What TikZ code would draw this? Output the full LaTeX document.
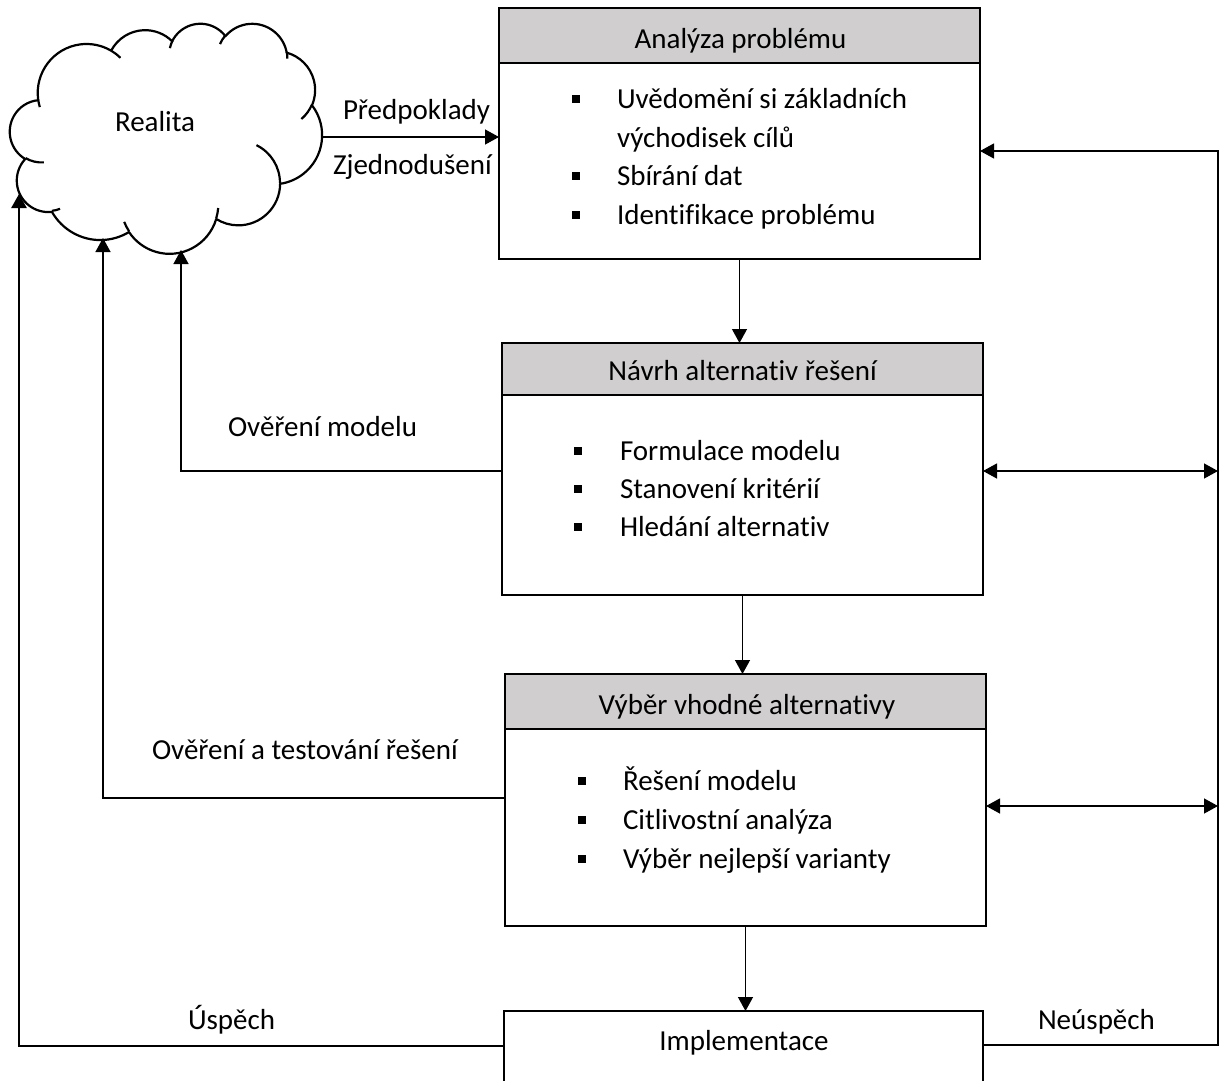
\documentclass[tikz,border=0pt]{standalone}
\usepackage{fontspec}
\setmainfont{Carlito}[Ligatures={NoCommon}]
\usetikzlibrary{arrows.meta,calc}
\definecolor{hdrgray}{RGB}{208,206,206}
\newcommand\cldarc[5]{%
  \pgfmathsetmacro\cldta{atan2(#2*sin(#4), #3*cos(#4))}%
  \pgfmathsetmacro\cldtb{atan2(#2*sin(#4+#5), #3*cos(#4+#5))}%
  \pgfmathsetmacro\cldd{mod(\cldtb-\cldta+720,360)}%
  \expandafter\xdef\csname cldS#1\endcsname{\cldta}%
  \expandafter\xdef\csname cldD#1\endcsname{\cldd}%
}
\begin{document}
\begin{tikzpicture}[x=1pt,y=-1pt,
  every node/.style={inner sep=0pt, outer sep=0pt},
  txt/.style={font=\fontsize{29}{35}\selectfont, anchor=base west},
  ctxt/.style={font=\fontsize{29}{35}\selectfont, anchor=base},
  hdrbox/.style={draw, line width=2.6pt, fill=hdrgray, anchor=north, minimum height=#1},
  bodybox/.style={draw, line width=2.6pt, fill=white, anchor=north, minimum height=#1},
  bul/.style={fill=black, minimum size=8pt, rectangle},
  arr/.style={line width=1.3pt, -{Triangle[length=14pt,width=15pt]}},
  darr/.style={line width=1.3pt, {Triangle[length=14pt,width=15pt]}-{Triangle[length=14pt,width=15pt]}},
  cldline/.style={line width=2.2pt, line join=round}
]
\path[use as bounding box] (0,0) rectangle (1221,1081);
\clip (0,0) rectangle (1221,1081);
\fill[white] (0,0) rectangle (1221,1081);

% ---------- cloud (Office cloud outline) ----------
\cldarc{A}{675.3}{919.0}{-190.4875}{123.7805}
\cldarc{B}{533.3}{726.7}{-144.1024}{89.9452}
\cldarc{C}{436.5}{594.5}{-145.8079}{99.7230}
\cldarc{D}{485.7}{659.5}{-130.9861}{117.2417}
\cldarc{E}{533.3}{727.3}{-78.7089}{109.0269}
\cldarc{F}{677.5}{922.0}{-46.2673}{130.2690}
\cldarc{G}{578.5}{786.7}{0.6250}{114.0333}
\cldarc{H}{675.2}{921.5}{22.4516}{115.1726}
\cldarc{I}{772.0}{1054.3}{66.2426}{75.7110}
\cldarc{J}{436.0}{591.8}{-274.9421}{146.7356}
\cldarc{K}{434.5}{594.5}{-246.8285}{152.5189}
\cldarc{a}{434.5}{594.5}{86.7420}{26.4295}
\cldarc{b}{436.0}{591.8}{73.6105}{11.4475}
\cldarc{c}{675.2}{921.5}{137.6242}{14.0811}
\cldarc{d}{675.2}{921.5}{6.4533}{15.9984}
\cldarc{e}{578.5}{786.7}{-70.2924}{70.9174}
\cldarc{f}{533.3}{727.3}{30.3180}{27.7515}
\cldarc{g}{485.7}{659.5}{-13.7443}{14.8589}
\cldarc{h}{485.7}{659.5}{-149.1815}{18.1954}
\cldarc{i}{436.5}{594.5}{-163.4943}{17.6864}
\cldarc{j}{675.3}{919.0}{-66.7070}{12.3194}
\cldarc{k}{675.3}{919.0}{157.6544}{11.8582}
\begin{scope}[shift={(10,23)}, x=0.072222pt, y=-0.053241pt]
\draw[cldline, fill=white] (390,1437)
  arc[start angle=\cldSA, delta angle=\cldDA, x radius=675.3, y radius=919.0]
  arc[start angle=\cldSB, delta angle=\cldDB, x radius=533.3, y radius=726.7]
  arc[start angle=\cldSC, delta angle=\cldDC, x radius=436.5, y radius=594.5]
  arc[start angle=\cldSD, delta angle=\cldDD, x radius=485.7, y radius=659.5]
  arc[start angle=\cldSE, delta angle=\cldDE, x radius=533.3, y radius=727.3]
  arc[start angle=\cldSF, delta angle=\cldDF, x radius=677.5, y radius=922.0]
  arc[start angle=\cldSG, delta angle=\cldDG, x radius=578.5, y radius=786.7]
  arc[start angle=\cldSH, delta angle=\cldDH, x radius=675.2, y radius=921.5]
  arc[start angle=\cldSI, delta angle=\cldDI, x radius=772.0, y radius=1054.3]
  arc[start angle=\cldSJ, delta angle=\cldDJ, x radius=436.0, y radius=591.8]
  arc[start angle=\cldSK, delta angle=\cldDK, x radius=434.5, y radius=594.5]
  -- cycle;
\draw[cldline]
  (469.3,2617.7) arc[start angle=\cldSa, delta angle=\cldDa, x radius=434.5, y radius=594.5]
  (692.8,3489.9) arc[start angle=\cldSb, delta angle=\cldDb, x radius=436.0, y radius=591.8]
  (1647.8,3909.0) arc[start angle=\cldSc, delta angle=\cldDc, x radius=675.2, y radius=921.5]
  (2882.7,3475.1) arc[start angle=\cldSd, delta angle=\cldDd, x radius=675.2, y radius=921.5]
  (3412.9,2295.4) arc[start angle=\cldSe, delta angle=\cldDe, x radius=578.5, y radius=786.7]
  (4179.8,1535.4) arc[start angle=\cldSf, delta angle=\cldDf, x radius=533.3, y radius=727.3]
  (3832.4,542.6) arc[start angle=\cldSg, delta angle=\cldDg, x radius=485.7, y radius=659.5]
  (2907.8,395.2) arc[start angle=\cldSh, delta angle=\cldDh, x radius=485.7, y radius=659.5]
  (2214.1,472.0) arc[start angle=\cldSi, delta angle=\cldDi, x radius=436.5, y radius=594.5]
  (1400.0,519.2) arc[start angle=\cldSj, delta angle=\cldDj, x radius=675.3, y radius=919.0]
  (412.7,1578.9) arc[start angle=\cldSk, delta angle=\cldDk, x radius=675.3, y radius=919.0];
\end{scope}
\node[txt] (realita) at (115,131.5) {Realita};

% ---------- boxes ----------
\node[hdrbox=55pt, minimum width=481pt] (h1) at (739.5,8) {};
\node[bodybox=196pt, minimum width=481pt] (b1) at (739.5,63) {};
\node[hdrbox=52pt, minimum width=481pt] (h2) at (742.5,343) {};
\node[bodybox=200pt, minimum width=481pt] (b2) at (742.5,395) {};
\node[hdrbox=55pt, minimum width=481pt] (h3) at (745.5,674) {};
\node[bodybox=197pt, minimum width=481pt] (b3) at (745.5,729) {};
\node[bodybox=110pt, minimum width=479pt] (b4) at (743.5,1011) {};

% headers
\node[ctxt] (t1) at (740.5,48.5) {Analýza problému};
\node[ctxt] (t2) at (742.5,380.5) {Návrh alternativ řešení};
\node[ctxt] (t3) at (747,714.5) {Výběr vhodné alternativy};
\node[ctxt] (t4) at (744,1050) {Implementace};

% box 1 items
\node[bul] (p11) at (575.5,98.5) {};
\node[txt] (l11) at (617,108) {Uvědomění si základních};
\node[txt] (l12) at (617,147) {východisek cílů};
\node[bul] (p12) at (575.5,175.5) {};
\node[txt] (l13) at (617,185) {Sbírání dat};
\node[bul] (p13) at (575.5,214.5) {};
\node[txt] (l14) at (617,224) {Identifikace problému};

% box 2 items
\node[bul] (p21) at (577.5,450.5) {};
\node[txt] (l21) at (620,460) {Formulace modelu};
\node[bul] (p22) at (577.5,488.5) {};
\node[txt] (l22) at (620,498) {Stanovení kritérií};
\node[bul] (p23) at (577.5,526.5) {};
\node[txt] (l23) at (620,536) {Hledání alternativ};

% box 3 items
\node[bul] (p31) at (581.5,780.5) {};
\node[txt] (l31) at (623,790) {Řešení modelu};
\node[bul] (p32) at (581.5,819.5) {};
\node[txt] (l32) at (623,829) {Citlivostní analýza};
\node[bul] (p33) at (581.5,858.5) {};
\node[txt] (l33) at (623,868) {Výběr nejlepší varianty};

% ---------- labels ----------
\node[txt] (lp) at (343,119.5) {Předpoklady};
\node[txt] (lz) at (333,174.5) {Zjednodušení};
\node[txt] (lom) at (228,436.5) {Ověření modelu};
\node[txt] (lot) at (152,759.5) {Ověření a testování řešení};
\node[txt] (lu) at (188,1029.5) {Úspěch};
\node[txt] (ln) at (1038,1029.5) {Neúspěch};

% ---------- connector points ----------
\coordinate (pa) at (322,137);
\coordinate (R1) at (1218,151);
\coordinate (r2) at (1218,471);
\coordinate (r3) at (1218,806);
\coordinate (rb) at (1218,1045);
\coordinate (l2) at (181,471);
\coordinate (c2) at (181,250);
\coordinate (l3) at (103,798);
\coordinate (c3) at (103,238);
\coordinate (l4) at (19,1046);
\coordinate (c4) at (19,194);

% ---------- connectors ----------
\draw[arr] (pa) -- (pa -| b1.west);
\draw[arr] (b1.south) -- (b1.south |- h2.north);
\draw[arr] (b2.south) -- (b2.south |- h3.north);
\draw[arr] (b3.south) -- (b3.south |- b4.north);
\draw[arr] (rb -| b4.east) -- (rb) -- (R1) -- (R1 -| b1.east);
\draw[darr] (r2 -| b2.east) -- (r2);
\draw[darr] (r3 -| b3.east) -- (r3);
\draw[arr] (l2 -| b2.west) -- (l2) -- (c2);
\draw[arr] (l3 -| b3.west) -- (l3) -- (c3);
\draw[arr, line width=2.5pt] (l4 -| b4.west) -- (l4) -- (c4);
\end{tikzpicture}
\end{document}
